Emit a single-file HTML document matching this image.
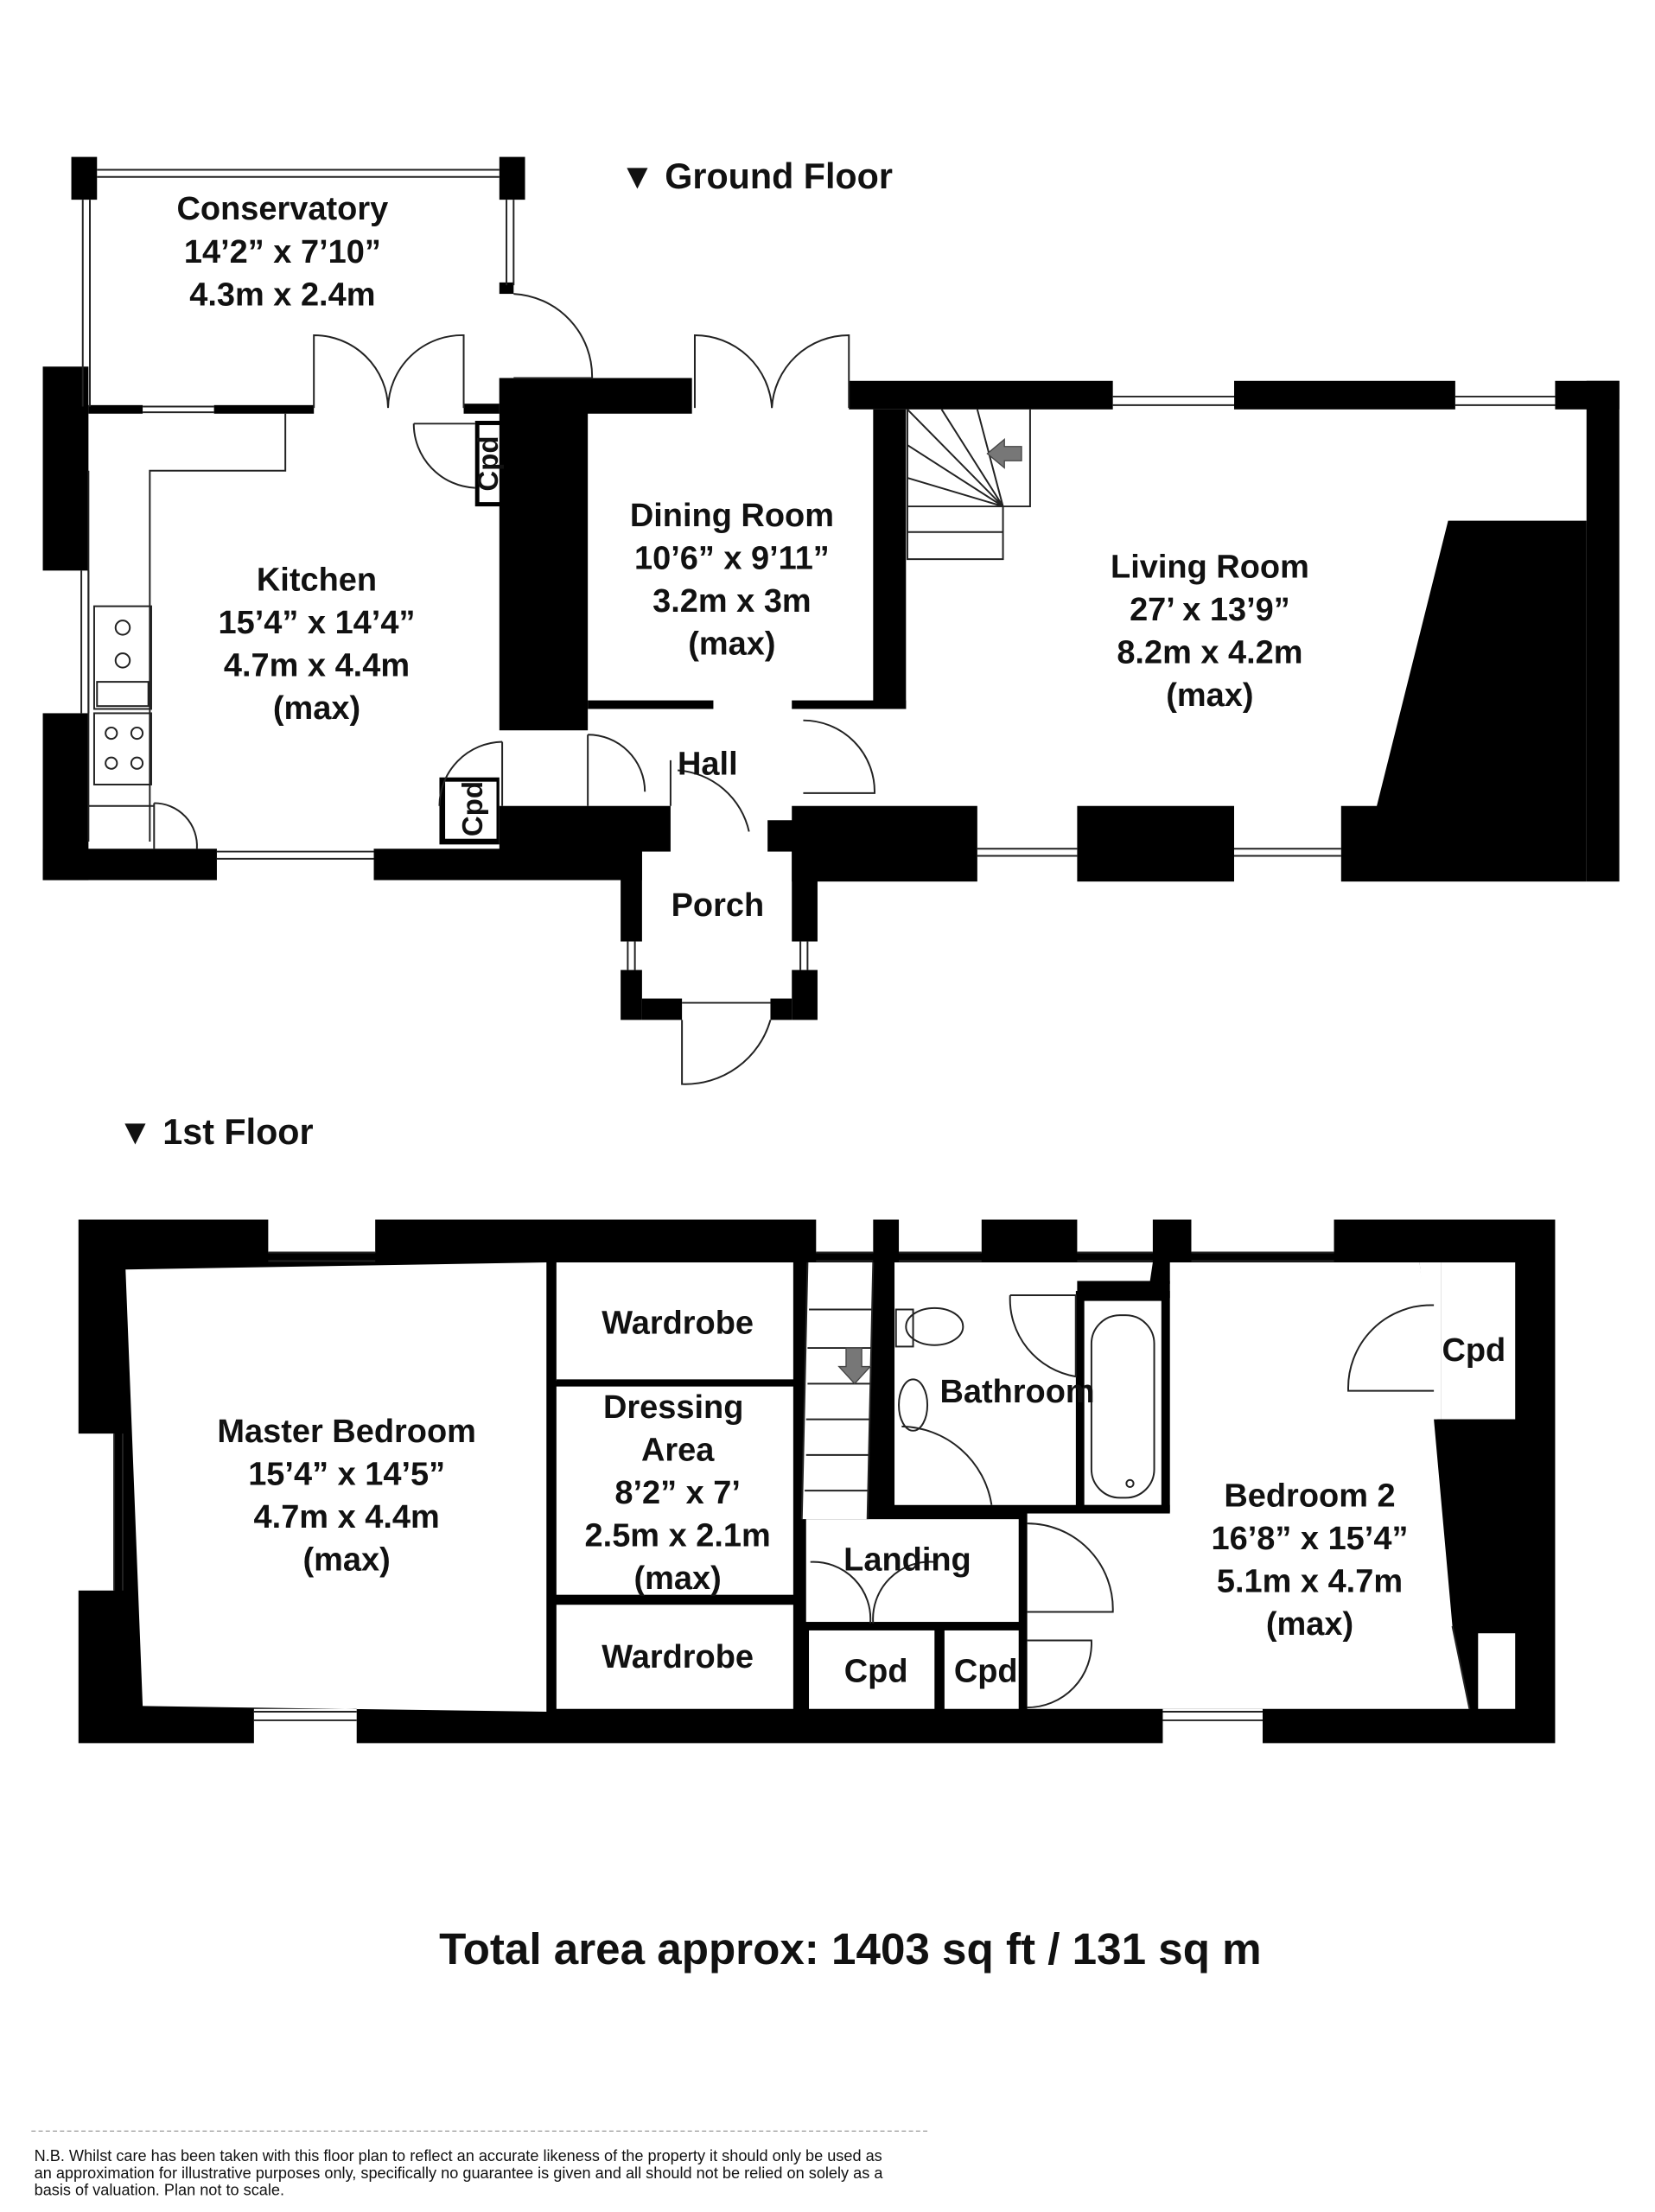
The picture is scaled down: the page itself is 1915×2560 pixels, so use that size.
<!DOCTYPE html>
<html><head><meta charset="utf-8"><style>
html,body{margin:0;padding:0;background:#fff}
svg{display:block}
text{font-family:"Liberation Sans",Arial,sans-serif;font-weight:bold;fill:#111}
</style></head><body>
<svg width="1915" height="2560" viewBox="0 0 1160 1550.7" xmlns="http://www.w3.org/2000/svg">
<rect width="1160" height="1551" fill="#fff"/>
<g fill="#000">
<rect x="50" y="110" width="18" height="30"/><rect x="350" y="110" width="18" height="30"/>
<rect x="350" y="198" width="10" height="8"/>
<rect x="30" y="257" width="32" height="143"/><rect x="30" y="500" width="32" height="117"/>
<rect x="30" y="595" width="122" height="22"/><rect x="262" y="595" width="188" height="22"/>
<rect x="350" y="565" width="120" height="32"/>
<rect x="62" y="284" width="38" height="6"/><rect x="150" y="284" width="70" height="6"/>
<rect x="325" y="283" width="25" height="7"/>
<rect x="350" y="265" width="62" height="247"/>
<rect x="350" y="265" width="135" height="25"/>
<rect x="595" y="267" width="185" height="20"/><rect x="865" y="267" width="155" height="20"/><rect x="1090" y="267" width="45" height="20"/>
<rect x="612" y="287" width="23" height="210"/>
<rect x="412" y="491" width="88" height="6"/><rect x="555" y="491" width="80" height="6"/>
<rect x="1112" y="267" width="23" height="351"/>
<polygon points="1015,365 1112,365 1112,618 940,618 940,565 965,565"/>
<rect x="555" y="565" width="130" height="53"/><rect x="755" y="565" width="110" height="53"/>
<rect x="538" y="575" width="20" height="22"/>
<rect x="435" y="595" width="15" height="65"/><rect x="555" y="595" width="18" height="65"/>
<rect x="435" y="680" width="15" height="35"/><rect x="555" y="680" width="18" height="35"/>
<rect x="450" y="700" width="28" height="15"/><rect x="540" y="700" width="15" height="15"/>
<rect x="333" y="295" width="20" height="60"/><rect x="308" y="545" width="42" height="47"/>
<path fill-rule="evenodd" d="M55,855 H188 V878 H263 V855 H572 V878 H612 V855 H630 V878 H688 V855 H755 V878 H808 V855 H835 V878 H935 V855 H1090 V1222 H885 V1198 H815 V1222 H250 V1198 H178 V1222 H55 V1115 H80 V1005 H55 Z M88,890 L383,885 V1200 L100,1196 Z"/>
</g>
<g fill="#fff">
<rect x="390" y="885" width="167" height="83"/>
<rect x="390" y="972" width="167" height="146"/>
<rect x="390" y="1125" width="167" height="73"/>
<polygon points="566,885 612,885 608,1065 562,1065"/>
<rect x="627" y="885" width="190" height="172"/>
<rect x="565" y="1065" width="150" height="72"/>
<rect x="567" y="1143" width="88" height="55"/>
<rect x="662" y="1143" width="53" height="55"/>
<polygon points="720,885 995,885 1030,1198 720,1198"/>
<rect x="1010" y="885" width="52" height="110"/>
<rect x="1036" y="1145" width="26" height="53"/>
<polygon points="995,885 1010,885 1010,995 1005,995"/>
</g>
<g fill="#000">
<polygon points="1005,995 1062,995 1062,1140 1036,1140 1030,1198 1018,1140"/>
<rect x="755" y="898" width="65" height="12"/><rect x="812" y="885" width="8" height="15"/>
<polygon points="808,885 820,885 812,905 805,905"/>
<rect x="754" y="905" width="66" height="155"/>
<rect x="620" y="880" width="7" height="180"/>
<rect x="620" y="1055" width="200" height="6"/>
</g>
<g fill="#fff"><rect x="760" y="912" width="54" height="143"/><rect x="627" y="885" width="127" height="170"/></g>
<g fill="none" stroke="#222" stroke-width="1.2">
<line x1="68" y1="119" x2="350" y2="119"/><line x1="68" y1="124" x2="350" y2="124"/>
<line x1="58" y1="140" x2="58" y2="285"/><line x1="63" y1="140" x2="63" y2="285"/>
<line x1="355" y1="140" x2="355" y2="200"/><line x1="360" y1="140" x2="360" y2="200"/>
<line x1="57" y1="400" x2="57" y2="500"/><line x1="62" y1="400" x2="62" y2="500"/>
<line x1="152" y1="597" x2="262" y2="597"/><line x1="152" y1="602" x2="262" y2="602"/>
<line x1="100" y1="285" x2="150" y2="285"/><line x1="100" y1="289" x2="150" y2="289"/>
<line x1="780" y1="278" x2="865" y2="278"/><line x1="780" y1="284" x2="865" y2="284"/>
<line x1="1020" y1="278" x2="1090" y2="278"/><line x1="1020" y1="284" x2="1090" y2="284"/>
<line x1="685" y1="595" x2="755" y2="595"/><line x1="685" y1="600" x2="755" y2="600"/>
<line x1="865" y1="595" x2="940" y2="595"/><line x1="865" y1="600" x2="940" y2="600"/>
<line x1="440" y1="660" x2="440" y2="680"/><line x1="445" y1="660" x2="445" y2="680"/>
<line x1="561" y1="660" x2="561" y2="680"/><line x1="566" y1="660" x2="566" y2="680"/>
<line x1="478" y1="703" x2="540" y2="703"/>
<path d="M62,590 V330 M105,590 V330 H200 V290"/>
<rect x="66" y="425" width="40" height="72"/><circle cx="86" cy="440" r="5"/><circle cx="86" cy="463" r="5"/>
<rect x="68" y="478" width="36" height="17"/>
<rect x="66" y="500" width="40" height="50"/>
<circle cx="78" cy="514" r="4"/><circle cx="96" cy="514" r="4"/><circle cx="78" cy="535" r="4"/><circle cx="96" cy="535" r="4"/>
<line x1="62" y1="565" x2="108" y2="565"/>
<path d="M360,206 A58,58 0 0 1 415,265 H360"/>
<path d="M220,286 V235 A52,52 0 0 1 272,286 M325,286 V235 A52,52 0 0 0 272,286"/>
<path d="M487,286 V235 A54,54 0 0 1 541,286 M595,286 V235 A54,54 0 0 0 541,286"/>
<path d="M290,297 H333 M290,297 A45,45 0 0 0 333,342"/>
<path d="M352,520 V565 M352,520 A45,45 0 0 0 308,565"/>
<path d="M412,515 A40,40 0 0 1 452,555 M412,515 V565"/>
<path d="M563,505 A50,50 0 0 1 613,556 H563"/>
<path d="M470,533 V565 M475,540 A55,55 0 0 1 525,583"/>
<path d="M108,563 A30,30 0 0 1 138,595 M108,563 V595"/>
<path d="M478,715 V760 A62,62 0 0 0 540,715"/>
<path d="M636,287 V392 H703 V355 H722 V287 M636,287 L703,355 M660,287 L703,355 M685,287 L703,355 M636,312 L703,355 M636,335 L703,355 M636,355 H703 M636,373 H703"/>
<line x1="188" y1="878" x2="263" y2="878"/><line x1="188" y1="884" x2="263" y2="884"/>
<line x1="572" y1="878" x2="612" y2="878"/><line x1="572" y1="884" x2="612" y2="884"/>
<line x1="630" y1="878" x2="688" y2="878"/><line x1="630" y1="884" x2="688" y2="884"/>
<line x1="755" y1="878" x2="808" y2="878"/><line x1="755" y1="884" x2="808" y2="884"/>
<line x1="835" y1="878" x2="935" y2="878"/><line x1="835" y1="884" x2="935" y2="884"/>
<line x1="80" y1="1005" x2="80" y2="1115"/><line x1="86" y1="1005" x2="86" y2="1115"/>
<line x1="178" y1="1200" x2="250" y2="1200"/><line x1="178" y1="1206" x2="250" y2="1206"/>
<line x1="815" y1="1200" x2="885" y2="1200"/><line x1="815" y1="1206" x2="885" y2="1206"/>
<path d="M566,885 L562,1065 M612,885 L608,1065 M567,918 H611 M566,945 H611 M566,970 H610 M565,995 H610 M565,1020 H609 M564,1045 H609"/>
<rect x="765" y="922" width="44" height="128" rx="20"/>
<circle cx="792" cy="1040" r="2.5"/>
<ellipse cx="655" cy="930" rx="20" ry="13"/><rect x="628" y="918" width="12" height="26"/>
<ellipse cx="640" cy="985" rx="10" ry="18"/>
<path d="M708,908 H754 V965 A55,55 0 0 1 708,908"/>
<path d="M632,1000 A65,65 0 0 1 695,1055"/>
<path d="M1005,915 A58,58 0 0 0 945,975 H1005"/>
<path d="M720,1068 A60,60 0 0 1 780,1130 H720"/>
<path d="M720,1150 H765 A45,45 0 0 1 720,1197"/>
<path d="M568,1095 A40,40 0 0 1 610,1138 M655,1095 A40,40 0 0 0 612,1138"/>
<line x1="1018" y1="1140" x2="1030" y2="1198"/>
</g>
<g stroke="#000" stroke-width="2"><line x1="385" y1="885" x2="385" y2="1200"/><line x1="557" y1="885" x2="557" y2="1200"/><line x1="390" y1="968" x2="557" y2="968"/><line x1="390" y1="1120" x2="557" y2="1120"/><line x1="660" y1="1140" x2="660" y2="1200"/><line x1="565" y1="1141" x2="715" y2="1141"/><line x1="715" y1="1060" x2="715" y2="1200"/></g>
<polygon points="692,318 704,308 704,313 716,313 716,323 704,323 704,328" fill="#777" stroke="#444" stroke-width="0.8"/>
<polygon points="597,945 593,945 593,958 588,958 599,970 610,958 604,958 604,945" fill="#777" stroke="#444" stroke-width="0.8"/>
<rect x="336" y="298" width="14" height="54" fill="#fff"/><rect x="312" y="548" width="36" height="40" fill="#fff"/>
<g text-anchor="middle" font-size="23">
<text x="530" y="132" font-size="25">▼ Ground Floor</text>
<text x="198" y="154">Conservatory</text><text x="198" y="184">14’2” x 7’10”</text><text x="198" y="214">4.3m x 2.4m</text>
<text x="222" y="414">Kitchen</text><text x="222" y="444">15’4” x 14’4”</text><text x="222" y="474">4.7m x 4.4m</text><text x="222" y="504">(max)</text>
<text x="513" y="369">Dining Room</text><text x="513" y="399">10’6” x 9’11”</text><text x="513" y="429">3.2m x 3m</text><text x="513" y="459">(max)</text>
<text x="848" y="405">Living Room</text><text x="848" y="435">27’ x 13’9”</text><text x="848" y="465">8.2m x 4.2m</text><text x="848" y="495">(max)</text>
<text x="496" y="543">Hall</text>
<text x="503" y="642">Porch</text>
<text transform="translate(349,325) rotate(-90)" font-size="20">Cpd</text>
<text transform="translate(338,567) rotate(-90)" font-size="20">Cpd</text>
<text x="151" y="802" font-size="25">▼ 1st Floor</text>
<text x="243" y="1011">Master Bedroom</text><text x="243" y="1041">15’4” x 14’5”</text><text x="243" y="1071">4.7m x 4.4m</text><text x="243" y="1101">(max)</text>
<text x="475" y="935">Wardrobe</text>
<text x="472" y="994">Dressing</text><text x="475" y="1024">Area</text><text x="475" y="1054">8’2” x 7’</text><text x="475" y="1084">2.5m x 2.1m</text><text x="475" y="1114">(max)</text>
<text x="475" y="1169">Wardrobe</text>
<text x="713" y="983">Bathroom</text>
<text x="636" y="1101">Landing</text>
<text x="614" y="1179">Cpd</text><text x="691" y="1179">Cpd</text>
<text x="1033" y="954">Cpd</text>
<text x="918" y="1056">Bedroom 2</text><text x="918" y="1086">16’8” x 15’4”</text><text x="918" y="1116">5.1m x 4.7m</text><text x="918" y="1146">(max)</text>
<text x="596" y="1377" font-size="31">Total area approx: 1403 sq ft / 131 sq m</text>
</g>
<line x1="22" y1="1494" x2="650" y2="1494" stroke="#999" stroke-width="0.8" stroke-dasharray="3,2"/>
<g font-size="11">
<text x="24" y="1515" style="font-weight:normal">N.B. Whilst care has been taken with this floor plan to reflect an accurate likeness of the property it should only be used as</text>
<text x="24" y="1527" style="font-weight:normal">an approximation for illustrative purposes only, specifically no guarantee is given and all should not be relied on solely as a</text>
<text x="24" y="1539" style="font-weight:normal">basis of valuation. Plan not to scale.</text>
</g>
</svg>
</body></html>
